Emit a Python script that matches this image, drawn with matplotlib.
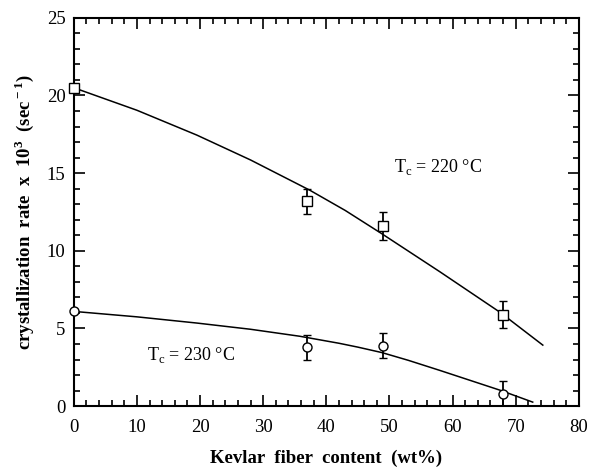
import matplotlib.pyplot as plt
from matplotlib.ticker import MultipleLocator

plt.rcParams['font.family'] = ['Liberation Serif', 'DejaVu Serif']
plt.rcParams['mathtext.fontset'] = 'custom'
plt.rcParams['mathtext.rm'] = 'Liberation Serif'
plt.rcParams['mathtext.bf'] = 'Liberation Serif:bold'

# measured points
x_pts = [0, 37, 49, 68]
sq_y = [20.5, 13.2, 11.6, 5.9]
sq_err = [0, 0.8, 0.9, 0.9]
ci_y = [6.1, 3.8, 3.9, 0.8]
ci_err = [0, 0.8, 0.8, 0.8]

# fitted curves
sq_fit_x = [0, 10, 19.5, 28, 37.4, 43, 48.8, 58, 67.5, 74.3]
sq_fit_y = [20.5, 19.05, 17.45, 15.85, 13.9, 12.6, 11.1, 8.65, 6.05, 3.93]
ci_fit_x = [0, 10, 19.5, 28, 35.8, 42, 45, 48.8, 53, 58, 67.5, 72.7]
ci_fit_y = [6.1, 5.75, 5.35, 4.95, 4.5, 4.05, 3.8, 3.45, 2.95, 2.3, 1.03, 0.26]

fig = plt.figure(figsize=(5.9, 4.69), dpi=100)
ax = fig.add_axes([0.125, 0.134, 0.856, 0.828])

ax.plot(sq_fit_x, sq_fit_y, color='black', lw=1.1)
ax.plot(ci_fit_x, ci_fit_y, color='black', lw=1.1)
for yv, ev, mk in [(sq_y, sq_err, 's'), (ci_y, ci_err, 'o')]:
    eb = ax.errorbar(x_pts, yv, yerr=ev, fmt=mk, mfc='white', mec='black',
                     ms=6.5, mew=1, ecolor='black', elinewidth=1.3, capsize=3,
                     capthick=1.3, zorder=3)
    eb[0].set_clip_on(False)

ax.text(57.7, 15.4, r'T$_{\rm c}$ = 220 °C', ha='center', va='center', fontsize=13)
ax.text(18.6, 3.3, r'T$_{\rm c}$ = 230 °C', ha='center', va='center', fontsize=13)

ax.set_xlim(0, 80)
ax.set_ylim(0, 25)
ax.xaxis.set_major_locator(MultipleLocator(10))
ax.xaxis.set_minor_locator(MultipleLocator(2))
ax.yaxis.set_major_locator(MultipleLocator(5))
ax.yaxis.set_minor_locator(MultipleLocator(1))
ax.tick_params(which='both', direction='in', top=True, right=True, width=1.2)
ax.tick_params(which='major', length=8, labelsize=13.5)
ax.tick_params(axis='x', which='major', pad=9)
ax.tick_params(axis='y', which='major', pad=6)
ax.tick_params(which='minor', length=4)
for s in ax.spines.values():
    s.set_linewidth(1.5)

ax.set_xlabel('Kevlar  fiber  content  (wt%)', fontsize=13.5, fontweight='bold', labelpad=10)
ax.set_ylabel(r'crystallization  rate  x  10$^{\bf 3}$  (sec$^{\bf -1}$)', fontsize=13.5,
              fontweight='bold', labelpad=8)

fig.savefig('out.png', dpi=100)
